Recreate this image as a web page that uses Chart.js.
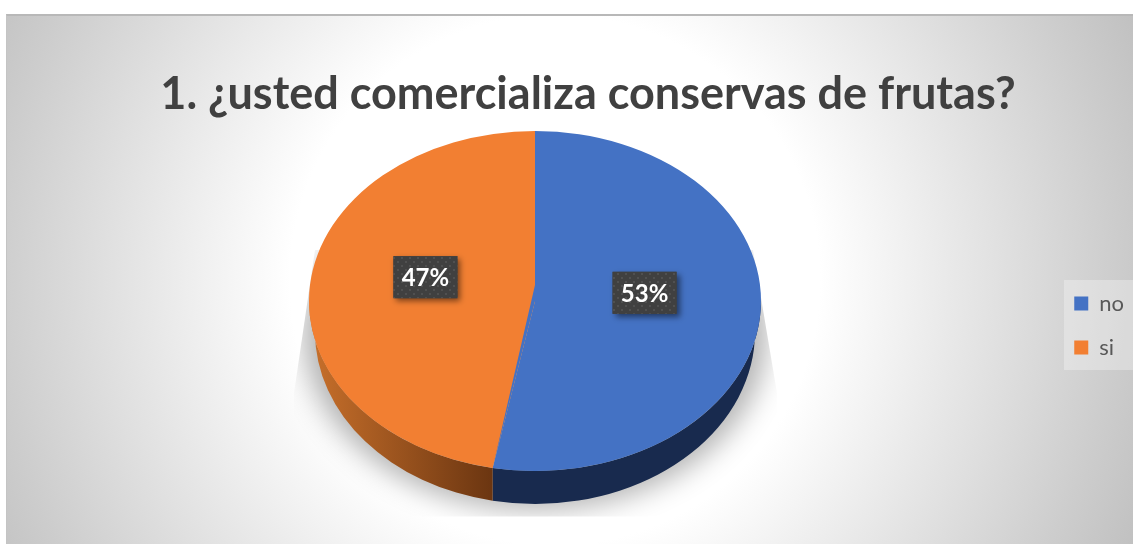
<!DOCTYPE html>
<html lang="es">
<head>
  <meta charset="UTF-8" />
  <title>Conservas de frutas</title>
  <script src="https://cdn.jsdelivr.net/npm/chart.js"></script>
  <style>
    html, body { margin: 0; background: #fff; overflow: hidden; }
    #panel {
      position: absolute; left: 6px; top: 14px; width: 1127px; height: 530px;
      border-top: 2px solid #b8b8b8; border-left: 1px solid #c4c4c4; box-sizing: border-box;
      background: radial-gradient(circle 660px at 548px 264px, #ffffff 0px, #ffffff 265px, #cdcdcd 560px, #bdbdbd 660px);
    }
    #fondoLeyenda {
      position: absolute; left: 1064px; top: 280px; width: 69px; height: 90px;
      background: rgba(255,255,255,0.3);
    }
    canvas { position: absolute; left: 0; top: 0; }
  </style>
</head>
<body>
  <div id="panel"></div>
  <div id="fondoLeyenda"></div>
  <canvas id="grafico" width="1133" height="544"></canvas>

  <script>
    const titulo = '1. ¿usted comercializa conservas de frutas?';
    const categorias = ['no', 'si'];
    const valores = [53, 47];

    const coloresCara = ['#4472c4', '#f27f32'];

    // forma de la tarta en pantalla
    const cx = 535, cy = 301, rx = 226, ry = 170;
    const baseCy = 332, baseRx = 220, baseRy = 172;
    const vertice = 285; // por la perspectiva el vertice queda por encima del centro

    function patronPuntos(ctx) {
      const c = document.createElement('canvas');
      c.width = 8; c.height = 8;
      const p = c.getContext('2d');
      p.fillStyle = '#404040';
      p.fillRect(0, 0, 8, 8);
      p.fillStyle = '#505050';
      p.fillRect(1, 1, 2, 2);
      p.fillRect(5, 5, 2, 2);
      return ctx.createPattern(c, 'repeat');
    }

    function dibujaSombra(ctx) {
      ctx.save();
      ctx.beginPath();
      ctx.moveTo(315, 250); ctx.lineTo(294, 393); ctx.lineTo(294, 516.5);
      ctx.lineTo(776, 516.5); ctx.lineTo(777, 393); ctx.lineTo(753, 250);
      ctx.closePath();
      ctx.clip();
      // la elipse queda fuera del lienzo, solo se ve su sombra
      ctx.shadowColor = 'rgba(0,0,0,0.3)';
      ctx.shadowBlur = 28;
      ctx.shadowOffsetX = 3000;
      ctx.fillStyle = '#000';
      ctx.beginPath();
      ctx.ellipse(cx - 3000, 334, 232, 176, 0, 0, Math.PI * 2);
      ctx.fill();
      ctx.restore();
    }

    function norm(a) {
      const d = Math.PI * 2;
      return ((a % d) + d) % d;
    }

    function dibujaTramo(ctx, ini, fin, relleno) {
      if (fin <= ini) return;
      const base = a => Math.acos(Math.max(-1, Math.min(1, rx * Math.cos(a) / baseRx)));
      ctx.fillStyle = relleno;
      ctx.beginPath();
      ctx.ellipse(cx, cy, rx, ry, 0, ini, fin);
      ctx.ellipse(cx, baseCy, baseRx, baseRy, 0, base(fin), base(ini), true);
      ctx.closePath();
      ctx.fill();
    }

    // canto de un sector: solo la parte que mira hacia delante
    function dibujaCanto(ctx, arco, relleno) {
      const ini = norm(arco.startAngle);
      const largo = arco.endAngle - arco.startAngle;
      dibujaTramo(ctx, Math.max(ini, 0), Math.min(ini + largo, Math.PI), relleno);
      // el sector puede volver a entrar por delante dando la vuelta
      const ini2 = ini - Math.PI * 2;
      dibujaTramo(ctx, Math.max(ini2, 0), Math.min(ini2 + largo, Math.PI), relleno);
    }

    const tarta3d = {
      id: 'tarta3d',
      beforeDatasetsDraw(chart) {
        const ctx = chart.ctx;
        const arcos = chart.getDatasetMeta(0).data;
        dibujaSombra(ctx);
        const degradado = ctx.createLinearGradient(cx - rx, 0, 491, 0);
        degradado.addColorStop(0, '#c8702b');
        degradado.addColorStop(1, '#6c3611');
        dibujaCanto(ctx, arcos[0], '#182a4e');
        dibujaCanto(ctx, arcos[1], degradado);
        // aplasta el circulo de Chart.js en una elipse
        const a = arcos[0];
        ctx.save();
        ctx.translate(cx, cy);
        ctx.scale(rx / a.outerRadius, ry / a.outerRadius);
        ctx.translate(-a.x, -a.y);
      },
      afterDatasetsDraw(chart) {
        const ctx = chart.ctx;
        ctx.restore();
        const arcos = chart.getDatasetMeta(0).data;

        // sube el vertice del primer sector
        const fin = arcos[0].endAngle;
        ctx.fillStyle = coloresCara[0];
        ctx.beginPath();
        ctx.moveTo(cx, vertice);
        ctx.lineTo(cx + Math.cos(fin) * rx, cy + Math.sin(fin) * ry);
        ctx.lineTo(cx, cy);
        ctx.closePath();
        ctx.fill();

        const patron = patronPuntos(ctx);
        arcos.forEach((arco, i) => {
          const medio = (arco.startAngle + arco.endAngle) / 2;
          const x = cx + Math.cos(medio) * rx * 0.487;
          const y = vertice + Math.sin(medio) * ry * 0.487;
          ctx.save();
          ctx.shadowColor = 'rgba(0,0,0,0.5)';
          ctx.shadowBlur = 6;
          ctx.shadowOffsetX = 3;
          ctx.shadowOffsetY = 3;
          ctx.fillStyle = '#404040';
          ctx.fillRect(x - 32, y - 21, 64, 42);
          ctx.restore();
          ctx.fillStyle = patron;
          ctx.fillRect(x - 32, y - 21, 64, 42);
          ctx.fillStyle = '#fff';
          ctx.font = 'bold 24px Lato';
          ctx.textAlign = 'center';
          ctx.textBaseline = 'middle';
          ctx.fillText(valores[i] + '%', x, y + 1);
        });
      }
    };

    new Chart(document.getElementById('grafico'), {
      type: 'pie',
      data: {
        labels: categorias,
        datasets: [{ data: valores, backgroundColor: coloresCara, borderWidth: 0 }]
      },
      plugins: [tarta3d],
      options: {
        responsive: false,
        animation: false,
        layout: { padding: { left: 42, right: -1, top: 0, bottom: 14 } },
        plugins: {
          tooltip: { enabled: false },
          title: {
            display: true,
            text: titulo,
            color: '#404040',
            font: { family: 'Lato', size: 45, weight: 'bold' },
            padding: { top: 67, bottom: 0 }
          },
          legend: {
            position: 'right',
            fullSize: false,
            labels: {
              boxWidth: 14,
              boxHeight: 14,
              padding: 22,
              color: '#595959',
              font: { family: 'Lato', size: 22 }
            }
          }
        }
      }
    });
  </script>
</body>
</html>
